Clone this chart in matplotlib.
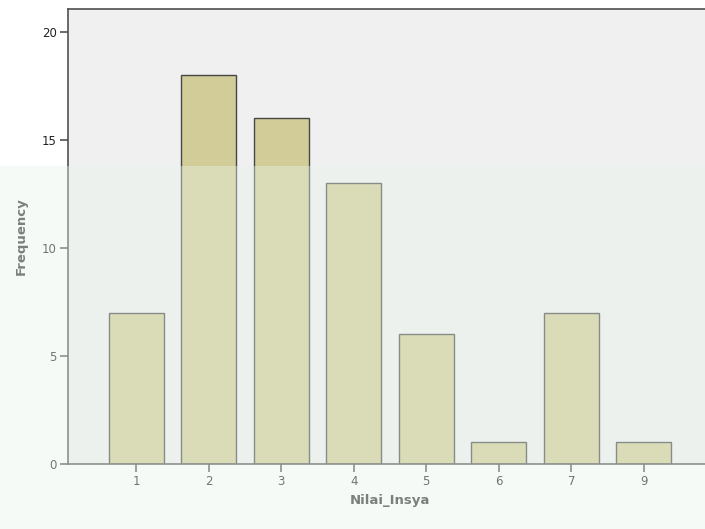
import numpy as np
import matplotlib.pyplot as plt
from matplotlib.patches import Rectangle

# data
nilai = ["1", "2", "3", "4", "5", "6", "7", "9"]
frekuensi = [7, 18, 16, 13, 6, 1, 7, 1]

fig = plt.figure(figsize=(7.05, 5.29), dpi=100)
fig.patch.set_facecolor("white")
ax = fig.add_axes([68/705, 65/529, 1 - 68/705 + 0.01, (464 - 9)/529])
ax.set_facecolor("#f0f0f0")

x = np.arange(len(nilai))
ax.bar(x, frekuensi, width=0.76, color="#d2cd98", edgecolor="#474747", linewidth=1.0, zorder=2)

ax.set_xlim(-0.94, 7.94)
ax.set_ylim(0, 21.06)
ax.set_xticks(x)
ax.set_xticklabels(nilai)
ax.set_yticks([0, 5, 10, 15, 20])

for s in ["left", "bottom", "top", "right"]:
    ax.spines[s].set_color("#505050")
    ax.spines[s].set_linewidth(1.2)

ax.tick_params(axis="both", direction="out", length=6, width=1.2, color="#505050",
               labelsize=8.5, labelcolor="#222222", pad=2)

ax.set_xlabel("Nilai_Insya", fontsize=9.5, fontweight="bold", color="#333333", labelpad=4)
ax.set_ylabel("Frequency", fontsize=9.5, fontweight="bold", color="#333333", labelpad=10)

# faded band over the lower part of the picture (as in the scan)
fig.patches.append(Rectangle((0, 0), 1, (529 - 166)/529, transform=fig.transFigure,
                             facecolor="#e8f4ea", alpha=0.4, edgecolor="none", zorder=5))

fig.savefig("out.png", dpi=100)
